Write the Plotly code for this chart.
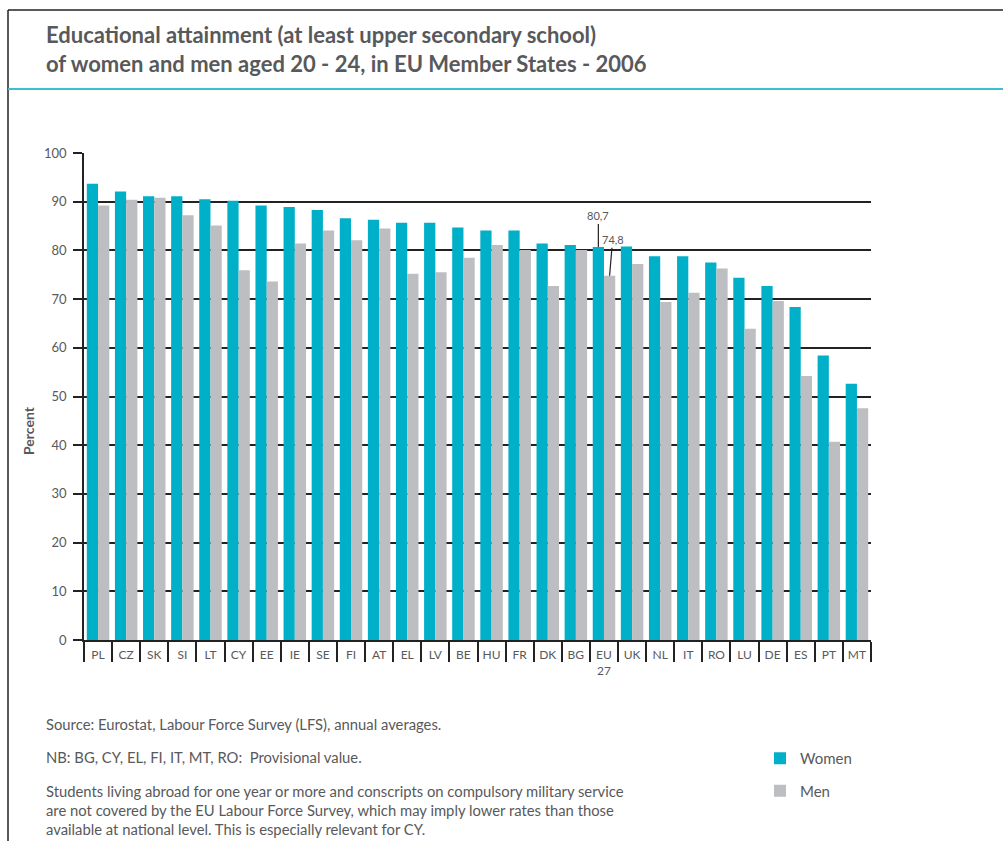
import plotly.graph_objects as go

# Share of 20-24 year olds with at least upper secondary education, 2006 (%)
countries = ["PL", "CZ", "SK", "SI", "LT", "CY", "EE", "IE", "SE", "FI", "AT", "EL", "LV", "BE",
             "HU", "FR", "DK", "BG", "EU 27", "UK", "NL", "IT", "RO", "LU", "DE", "ES", "PT", "MT"]
tick_labels = [c.replace(" ", "<br>") for c in countries]
women = [93.7, 92.1, 91.1, 91.1, 90.5, 90.2, 89.2, 88.9, 88.3, 86.6, 86.3, 85.7, 85.7, 84.7,
         84.1, 84.1, 81.4, 81.1, 80.7, 80.8, 78.8, 78.8, 77.5, 74.4, 72.7, 68.4, 58.4, 52.6]
men = [89.2, 90.4, 90.8, 87.2, 85.1, 75.9, 73.6, 81.4, 84.1, 82.1, 84.5, 75.2, 75.5, 78.5,
       81.1, 80.1, 72.7, 80.1, 74.8, 77.2, 69.4, 71.3, 76.3, 63.9, 69.6, 54.2, 40.7, 47.6]
y_ticks = list(range(0, 101, 10))

TEAL = "#00afc8"
GREY = "#bdbec2"
TEXT = "#58595b"
FONT = "Lato"

W, H = 1003, 841
# plot box in pixels
X0, X1, Y0, Y1 = 84, 871, 153, 640

fig = go.Figure()
fig.add_trace(go.Bar(name="Women", x=countries, y=women, marker=dict(color=TEAL, line_width=0),
                     legendgroup="w"))
fig.add_trace(go.Bar(name="Men", x=countries, y=men, marker=dict(color=GREY, line_width=0),
                     legendgroup="m"))

# EU-27 value labels with leader lines
eu = countries.index("EU 27")
fig.add_annotation(x=eu - 0.2, y=women[eu], text=f"{women[eu]:.1f}".replace(".", ","),
                   showarrow=True, arrowhead=0, arrowwidth=1.2, arrowcolor="#222",
                   ax=0, ay=-31, standoff=0, font=dict(size=11, color=TEXT, family=FONT))
fig.add_annotation(x=eu + 0.2, y=men[eu], text=f"{men[eu]:.1f}".replace(".", ","),
                   showarrow=True, arrowhead=0, arrowwidth=1.2, arrowcolor="#222",
                   ax=3, ay=-36, standoff=0, font=dict(size=11, color=TEXT, family=FONT))

# Title
fig.add_annotation(x=44 / W, y=1 - 19 / H, xref="paper", yref="paper", xanchor="left", yanchor="top",
                   align="left", showarrow=False,
                   text="<b>Educational attainment (at least upper secondary school)<br>"
                        "of women and men aged 20 - 24, in EU Member States - 2006</b>",
                   font=dict(size=22, color=TEXT, family=FONT))

# Y-axis caption
fig.add_annotation(x=28 / W, y=1 - 431 / H, xref="paper", yref="paper", xanchor="center",
                   yanchor="middle", textangle=-90, showarrow=False, text="<b>Percent</b>",
                   font=dict(size=14, color=TEXT, family=FONT))

# Notes below the chart
notes = [
    (724, "Source: Eurostat, Labour Force Survey (LFS), annual averages."),
    (757, "NB: BG, CY, EL, FI, IT, MT, RO:  Provisional value."),
    (810, "Students living abroad for one year or more and conscripts on compulsory military service<br>"
          "are not covered by the EU Labour Force Survey, which may imply lower rates than those<br>"
          "available at national level. This is especially relevant for CY."),
]
for yy, txt in notes:
    fig.add_annotation(x=44 / W, y=1 - yy / H, xref="paper", yref="paper", xanchor="left",
                       yanchor="middle", align="left", showarrow=False, text=txt,
                       font=dict(size=14.8, color=TEXT, family=FONT))

# Frame and title rule
fig.add_shape(type="line", xref="paper", yref="paper", x0=8 / W, x1=8 / W, y0=0, y1=1 - 10 / H,
              line=dict(color="#222", width=1.5))
fig.add_shape(type="line", xref="paper", yref="paper", x0=8 / W, x1=1, y0=1 - 10 / H, y1=1 - 10 / H,
              line=dict(color="#222", width=1.5))
fig.add_shape(type="line", xref="paper", yref="paper", x0=8 / W, x1=1, y0=1 - 89 / H, y1=1 - 89 / H,
              line=dict(color="#3dbfd0", width=2))

fig.update_layout(
    width=W, height=H,
    margin=dict(l=0, r=0, t=0, b=0),
    paper_bgcolor="white", plot_bgcolor="white",
    barmode="group", bargap=0.2, bargroupgap=0,
    font=dict(family=FONT, color=TEXT),
    showlegend=True,
    legend=dict(x=760 / W, y=1 - 742 / H, xanchor="left", yanchor="top",
                font=dict(size=15, color=TEXT, family=FONT), tracegroupgap=10,
                bgcolor="rgba(0,0,0,0)"),
    xaxis=dict(domain=[X0 / W, X1 / W], type="category", tickmode="array",
               tickvals=countries, ticktext=tick_labels,
               tickson="boundaries", ticks="outside", ticklen=20, tickwidth=1.5, tickcolor="#222",
               showline=True, linecolor="#222", linewidth=1.5, showgrid=False,
               tickfont=dict(size=12, color=TEXT, family=FONT), ticklabelstandoff=3,
               tickangle=0, automargin=False),
    yaxis=dict(domain=[1 - Y1 / H, 1 - Y0 / H], range=[0, 100], tickmode="array", tickvals=y_ticks,
               ticks="outside", ticklen=9, tickwidth=1.5, tickcolor="#222",
               showline=True, linecolor="#222", linewidth=1.5,
               showgrid=True, gridcolor="#222", gridwidth=1.5, zeroline=False,
               tickfont=dict(size=13, color=TEXT, family=FONT), ticklabelstandoff=4,
               automargin=False),
)

fig.write_html("out.html")
